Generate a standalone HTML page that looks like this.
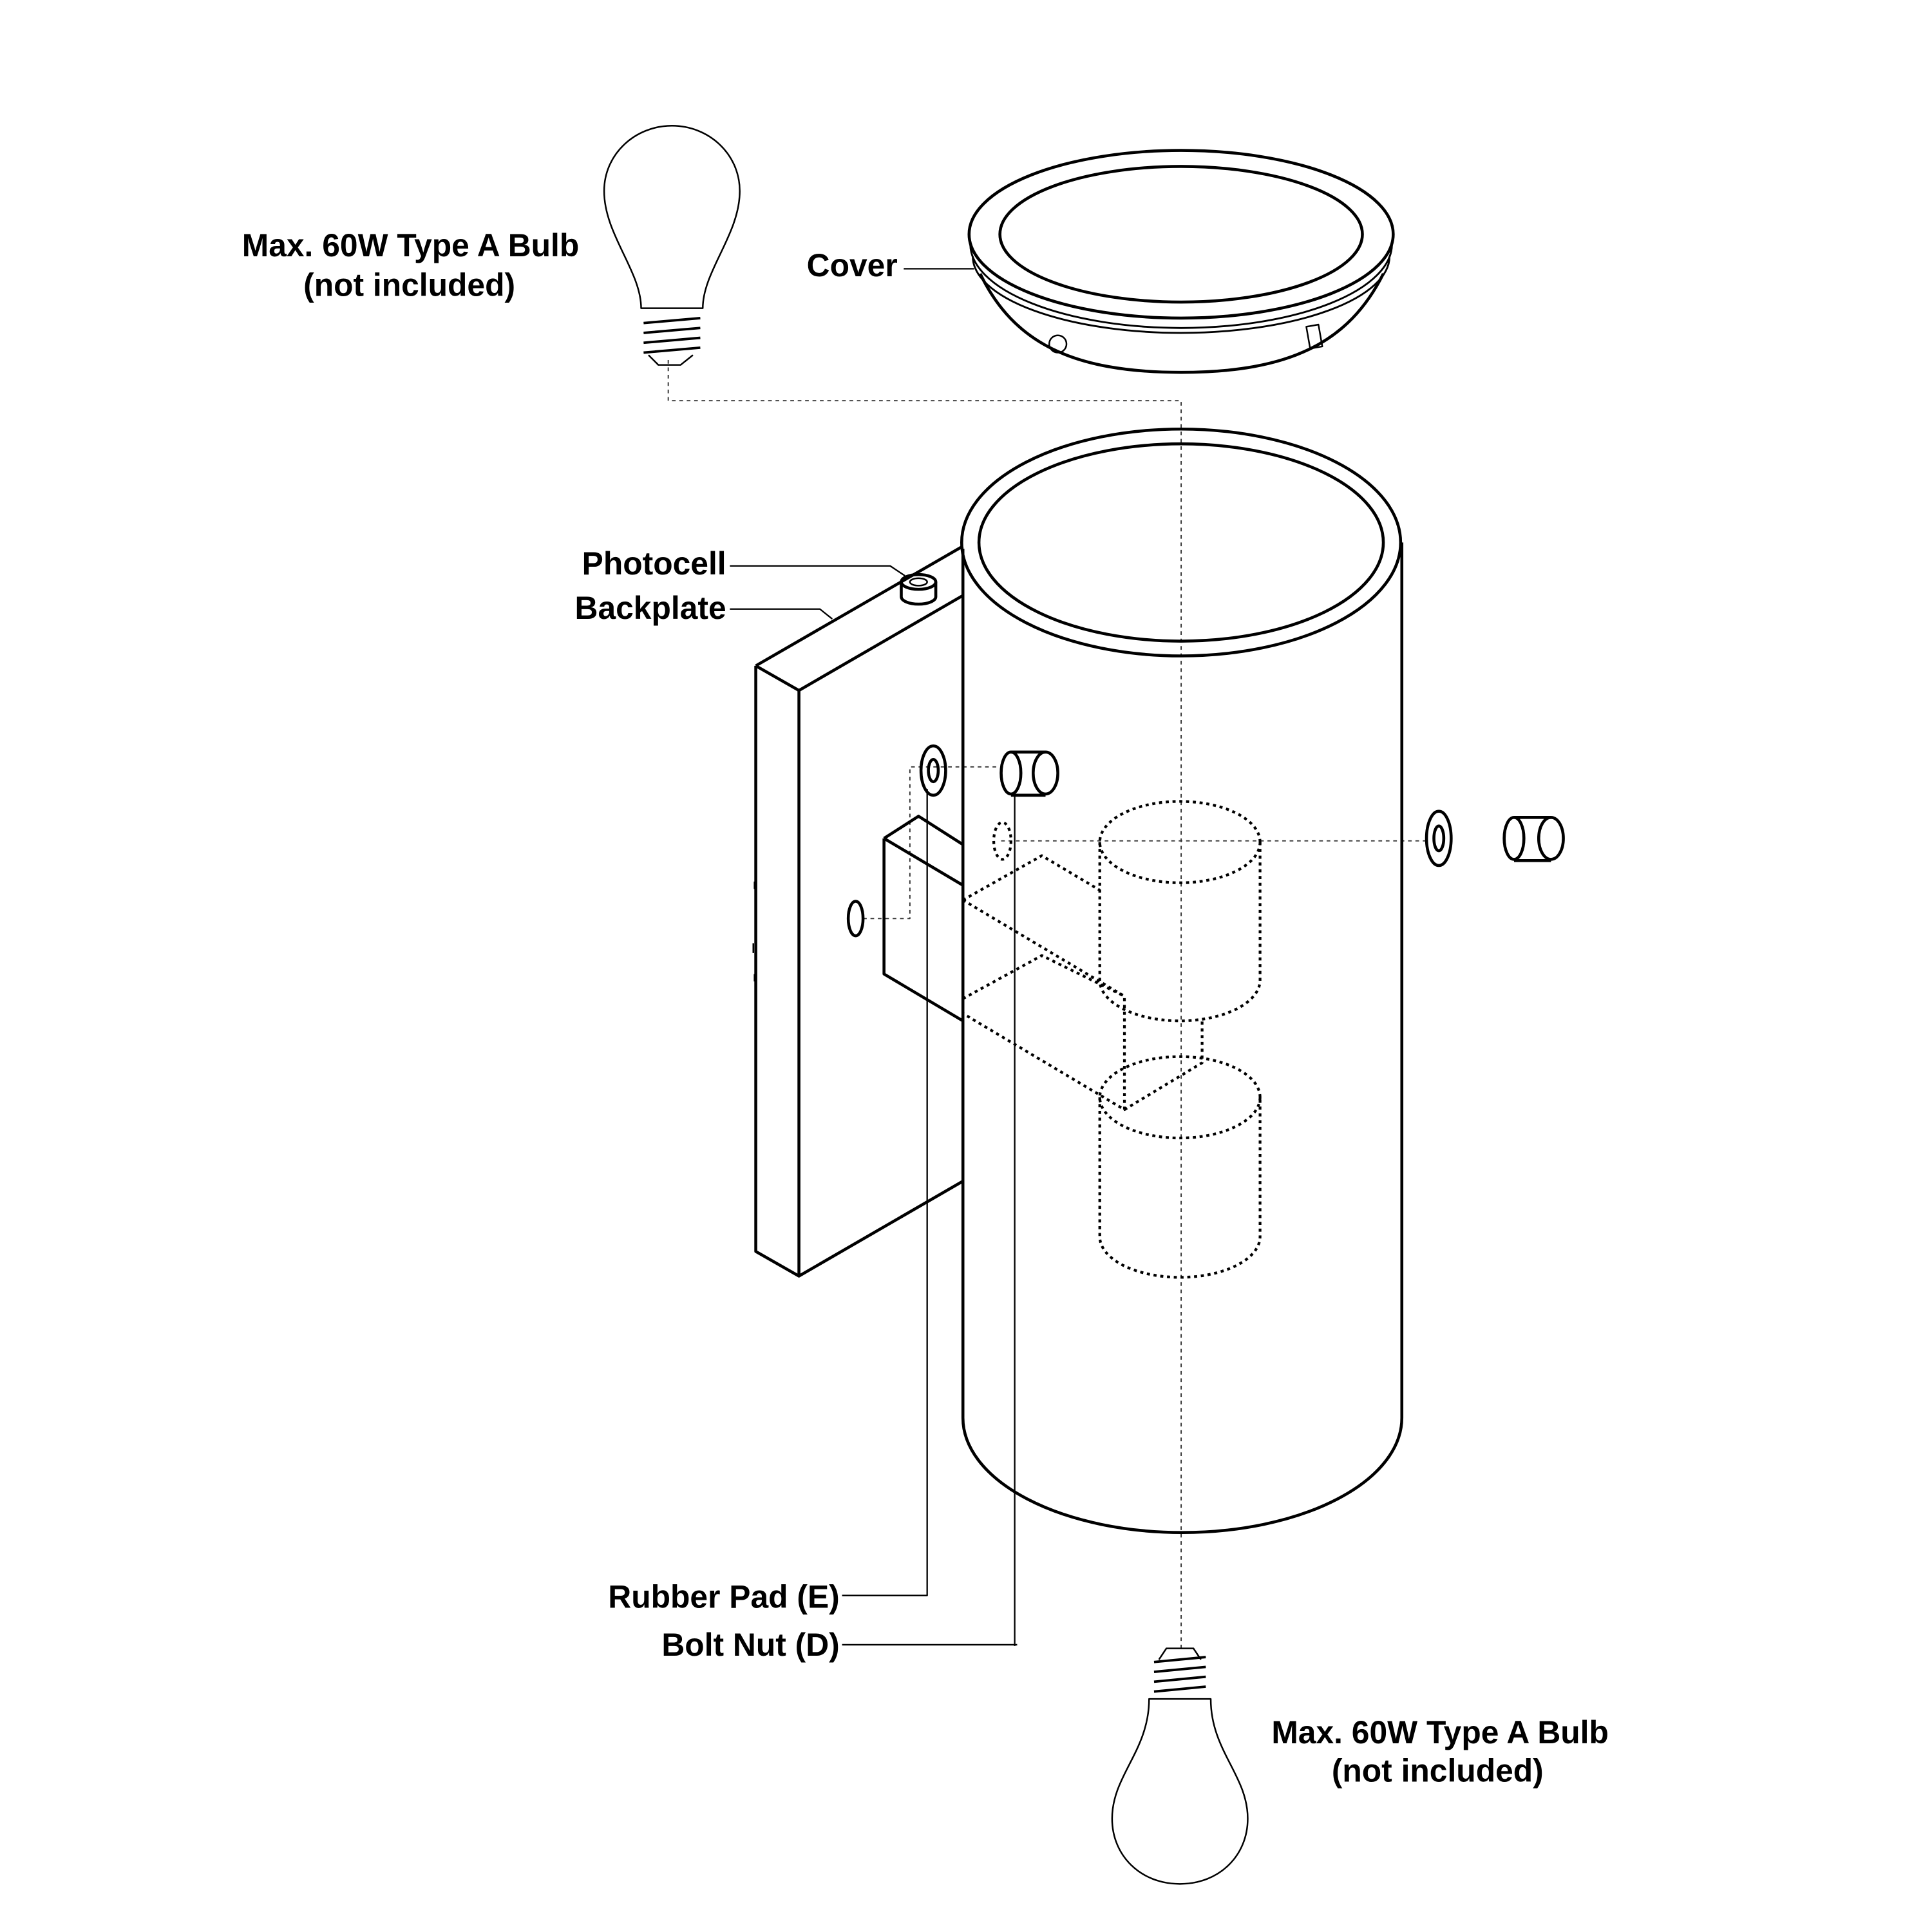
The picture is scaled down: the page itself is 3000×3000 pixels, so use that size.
<!DOCTYPE html>
<html><head><meta charset="utf-8"><style>
html,body{margin:0;padding:0;background:#fff}
svg{display:block}
text{font-family:"Liberation Sans",Arial,sans-serif;font-weight:bold;font-size:26px;fill:#000}
</style></head><body>
<svg width="3000" height="3000" viewBox="0 0 1567 1567" xmlns="http://www.w3.org/2000/svg">
<g fill="none" stroke="#000" stroke-width="2.4" stroke-linejoin="round">
<g stroke-width="1" stroke-dasharray="3,3" stroke="#333">
<path d="M542 292 V325 H958 V1340"/>
<path d="M700 745 H738 V622 H808"/>
<path d="M812 682 H1160"/>
</g>
<!-- bulb top-left -->
<path d="M520 250 C520 220 490 190 490 155 C490 125 515 102 545 102 C575 102 600 125 600 155 C600 190 570 220 570 250 Z" stroke-width="1.3"/>
<path d="M522 262 L568 258 M522 270 L568 266 M522 278 L568 274 M522 286 L568 282" stroke-width="2"/>
<path d="M526 288 L534 296 H552 L562 288" stroke-width="1.3"/>
<!-- cover -->
<ellipse cx="958" cy="190" rx="172" ry="68"/>
<ellipse cx="958" cy="190" rx="147" ry="55"/>
<path d="M787 198 A171 68 0 0 0 1129 198" stroke-width="1.5"/>
<path d="M789 208 A169 62 0 0 0 1127 208" stroke-width="1.5"/>
<path d="M795 222 C822 278 870 302 958 302 C1046 302 1094 278 1122 222"/>
<circle cx="858" cy="279" r="7" stroke-width="1.3"/>
<rect x="1061" y="264" width="10" height="18" stroke-width="1.3" transform="rotate(-10 1066 273)"/>
<!-- backplate -->
<path d="M613 540 L781 443 M613 540 L648 560 L781 483 M613 540 V1015 L648 1035 V560 M648 1035 L781 958"/>
<path d="M612 715 v6 M611 765 v8 M612 790 v6" stroke-width="1.3"/>
<!-- photocell -->
<ellipse cx="745" cy="472" rx="14" ry="6"/>
<path d="M731 472 V484 A14 6 0 0 0 759 484 V472"/>
<ellipse cx="745" cy="472" rx="7" ry="3" stroke-width="1.3"/>
<!-- arm box -->
<path d="M717 680 V790 L781 828 M717 680 L781 718 M717 680 L745 662 L781 685"/>
<!-- cylinder -->
<ellipse cx="958" cy="440" rx="178" ry="92"/>
<ellipse cx="958" cy="440" rx="164" ry="80"/>
<path d="M781 445 V1150 A178 93 0 0 0 1137 1150 V440"/>
<line x1="823" y1="645" x2="823" y2="1335" stroke-width="1.2"/>
<g stroke-dasharray="2.5,3" stroke-width="2.2">
<ellipse cx="957" cy="683" rx="65" ry="33"/>
<path d="M892 683 V795 A65 33 0 0 0 1022 795 V683"/>
<ellipse cx="957" cy="890" rx="65" ry="33"/>
<path d="M892 890 V1003 A65 33 0 0 0 1022 1003 V890"/>
<path d="M781 730 L845 694 L892 722 M781 730 L912 808 V900 L781 822 M781 810 L845 775 L912 808 M912 900 L975 862 V826 M781 730 V822"/>
<ellipse cx="813" cy="682" rx="7" ry="15"/>
</g>
<ellipse cx="757" cy="625" rx="10" ry="20"/>
<ellipse cx="757" cy="625" rx="4" ry="9"/>
<path d="M820 610 H848 M820 645 H848"/>
<ellipse cx="820" cy="627" rx="8" ry="17"/>
<ellipse cx="848" cy="627" rx="10" ry="17"/>
<ellipse cx="694" cy="745" rx="6" ry="14"/>
<ellipse cx="1167" cy="680" rx="10" ry="22"/>
<ellipse cx="1167" cy="680" rx="4" ry="10"/>
<path d="M1228 663 H1258 M1228 698 H1258"/>
<ellipse cx="1228" cy="680" rx="8" ry="17"/>
<ellipse cx="1258" cy="680" rx="10" ry="17"/>
<g stroke-width="1.2">
<path d="M592 459 H722 L734 467"/>
<path d="M592 494 H665 L675 502"/>
<path d="M733 218 H790"/>
<path d="M683 1294 H752 V640"/>
<path d="M683 1334 H825"/>
</g>
<!-- bulb bottom -->
<path d="M932 1378 C932 1420 902 1440 902 1475 C902 1505 925 1528 957 1528 C989 1528 1012 1505 1012 1475 C1012 1440 982 1420 982 1378 Z" stroke-width="1.3"/>
<path d="M936 1348 L978 1344 M936 1356 L978 1352 M936 1364 L978 1360 M936 1372 L978 1368" stroke-width="2"/>
<path d="M940 1346 L946 1337 H968 L974 1346" stroke-width="1.3"/>
</g>
<text x="333" y="208" text-anchor="middle">Max. 60W Type A Bulb</text>
<text x="332" y="240" text-anchor="middle">(not included)</text>
<text x="728" y="224" text-anchor="end">Cover</text>
<text x="589" y="466" text-anchor="end">Photocell</text>
<text x="589" y="502" text-anchor="end">Backplate</text>
<text x="681" y="1304" text-anchor="end">Rubber Pad (E)</text>
<text x="681" y="1343" text-anchor="end">Bolt Nut (D)</text>
<text x="1168" y="1414" text-anchor="middle">Max. 60W Type A Bulb</text>
<text x="1166" y="1445" text-anchor="middle">(not included)</text>
</svg>
</body></html>
